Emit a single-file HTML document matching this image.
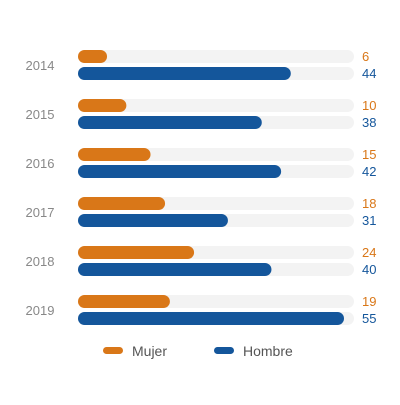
<!DOCTYPE html>
<html><head><meta charset="utf-8"><style>
body{margin:0;width:400px;height:400px;background:#fff;font-family:"Liberation Sans",sans-serif;overflow:hidden}
</style></head><body>
<svg width="400" height="400" id="c">
<g id="bars"></g>
<g>
<rect x="103" y="347" width="20" height="7" rx="3.5" fill="#d97718"/>
<text x="132" y="356" font-size="14" fill="#555">Mujer</text>
<rect x="214" y="347" width="20" height="7" rx="3.5" fill="#14569b"/>
<text x="243" y="356" font-size="14" fill="#555">Hombre</text>
</g>
</svg>
<script>
const years=["2014","2015","2016","2017","2018","2019"];
const mujer=[6,10,15,18,24,19];
const hombre=[44,38,42,31,40,55];
const maxV=55;
const x0=78,x1=344,trackEnd=354,top0=50,pitch=49,bh=13;
const xs=v=>(x1-x0)*v/maxV;
const g=document.getElementById('bars');
const ns="http://www.w3.org/2000/svg";
function mk(t,a){const e=document.createElementNS(ns,t);for(const k in a)e.setAttribute(k,a[k]);g.appendChild(e);return e;}
years.forEach((y,i)=>{
  const yo=top0+i*pitch, yb=yo+17;
  const lab=mk('text',{x:40,y:yo+20,'font-size':13,fill:'#888','text-anchor':'middle'});lab.textContent=y;
  
  
  [[yo,mujer[i],'#d97718','mujer'],[yb,hombre[i],'#14569b','hombre']].forEach(([yy,v,c,n])=>{
    const t=mk('rect',{x:x0,y:yy,width:trackEnd-x0,height:bh,rx:6.5,fill:'#f3f3f3'});
    
    
    const b=mk('rect',{x:x0,y:yy,width:xs(v),height:bh,rx:6.5,fill:c});
    
    
    const tv=mk('text',{x:362,y:yy+11,'font-size':13,fill:c});tv.textContent=v;
    
    
  });
});
</script>
</body></html>
